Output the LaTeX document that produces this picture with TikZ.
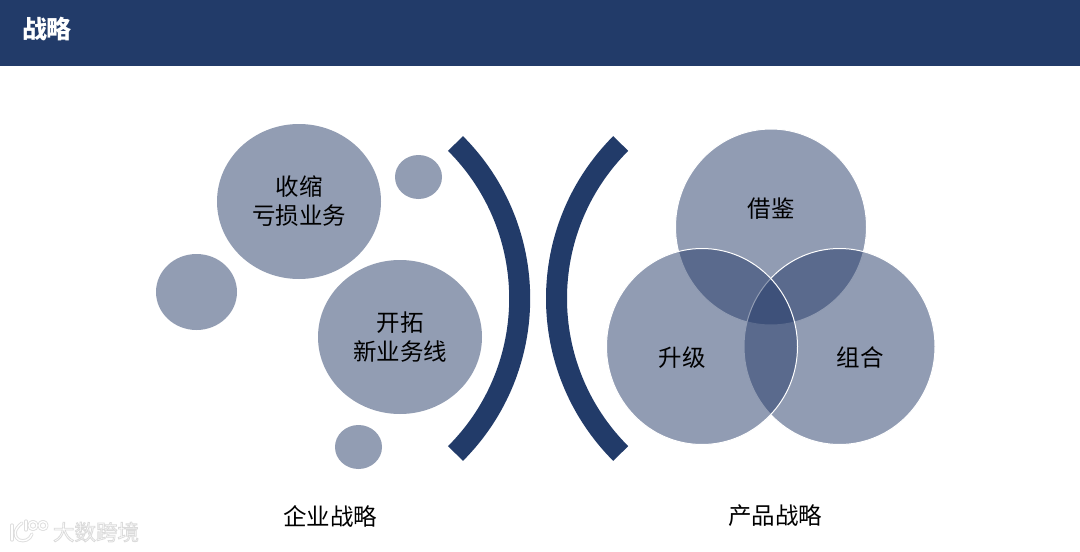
\documentclass[tikz,border=0pt]{standalone}
\usepackage{fontspec}
\usetikzlibrary{shapes.geometric}
\setmainfont{Noto Sans CJK SC}
\definecolor{navy}{HTML}{223B69}
\definecolor{vennbase}{HTML}{243A68}
\definecolor{soft}{HTML}{929DB3}
\definecolor{halo}{HTML}{DEDEDE}
\newcommand{\haloed}[1]{\special{pdf:code 2 Tr 0.8 w 0.86 G}#1\special{pdf:code 0 Tr 0 w 0 G}}
\tikzset{
  blob/.style={ellipse,inner sep=0pt,outer sep=0pt,fill=soft,align=center,font=\fontsize{23.5}{29}\selectfont,text=black},
  venn/.style={ellipse,inner sep=0pt,outer sep=0pt,draw=white,line width=1pt,fill=vennbase,fill opacity=0.5,minimum width=191pt,minimum height=196pt},
  vlabel/.style={font=\fontsize{23.5}{29}\selectfont,text=black,inner sep=0pt},
  caption/.style={font=\fontsize{23.5}{29}\selectfont,text=black,inner sep=0pt},
  bracket/.style={draw=navy,line width=21pt,line cap=butt},
  logoback/.style={draw=halo,line width=3.2pt,line cap=round,line join=round},
  logofront/.style={draw=white,line width=1.4pt,line cap=round,line join=round}
}
\begin{document}
\begin{tikzpicture}[x=1pt,y=-1pt]
\useasboundingbox (0,0) rectangle (1080,552);
\fill[white] (0,0) rectangle (1080,552);
\fill[navy] (0,0) rectangle (1080,66);
\node[font=\fontsize{25}{28}\selectfont\bfseries,text=white,inner sep=0pt] (title) at (47,29) {战略};

\node[blob,minimum width=164pt,minimum height=155pt] (shrink) at (299,201.5) {收缩\\亏损业务};
\node[blob,minimum width=164pt,minimum height=154pt] (expand) at (400,337) {开拓\\新业务线};
\node[blob,minimum width=47pt,minimum height=44pt] (dotA) at (418.5,177) {};
\node[blob,minimum width=81pt,minimum height=76pt] (dotB) at (196.5,292) {};
\node[blob,minimum width=47pt,minimum height=44pt] (dotC) at (358.5,447) {};

\coordinate (rc) at (300.5,298.5);
\coordinate (lc) at (775.7,298.5);
\draw[bracket] ([shift={(-45:219.2 and -219.2)}]rc) arc[start angle=-45,end angle=45,x radius=219.2,y radius=-219.2];
\draw[bracket] ([shift={(135:219.2 and -219.2)}]lc) arc[start angle=135,end angle=225,x radius=219.2,y radius=-219.2];

\node[venn] (top) at (771,227) {};
\node[venn] (right) at (839.5,346.5) {};
\node[venn] (left) at (702,346.5) {};
\node[vlabel] (ltop) at (771,209) {借鉴};
\node[vlabel] (lleft) at (682,358) {升级};
\node[vlabel] (lright) at (860,358) {组合};

\node[caption] (capA) at (330,516) {企业战略};
\node[caption] (capB) at (775,516) {产品战略};

\node[inner sep=0pt,font=\fontsize{21.5}{26}\selectfont,text=white] (mark) at (96,532) {\haloed{大数跨境}};
\foreach \s in {logoback,logofront}{
  \draw[\s] (12,525) -- (12,540);
  \draw[\s] (22,523) .. controls (14,529) and (13,536) .. (19,540) .. controls (24,542) and (30,540) .. (32,534);
  \draw[\s] (26,521) -- (26,530);
  \draw[\s] (33,525.5) circle[radius=4];
  \draw[\s] (43,525.5) circle[radius=4];
}
\end{tikzpicture}
\end{document}
